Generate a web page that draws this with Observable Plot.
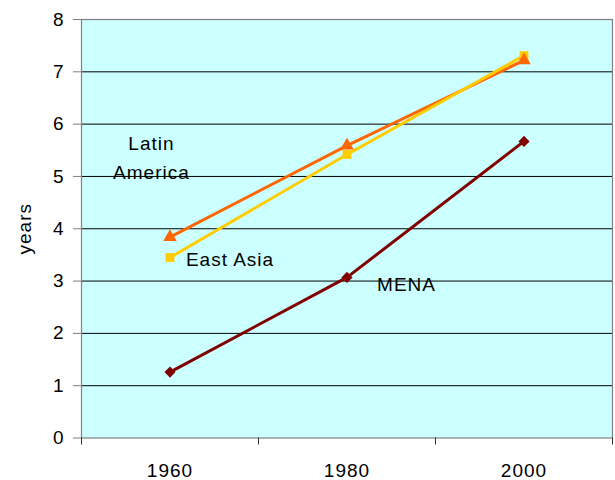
<!DOCTYPE html>
<html>
<head>
<meta charset="utf-8">
<script src="https://cdn.jsdelivr.net/npm/d3@7"></script>
<script src="https://cdn.jsdelivr.net/npm/@observablehq/plot@0.6"></script>
<style>
  html, body { margin: 0; padding: 0; background: #fff; }
  #chart svg text { letter-spacing: 1px; }
</style>
</head>
<body>
<div id="chart"></div>
<script>
const years = [1960, 1980, 2000];
const latinAmerica = [3.84, 5.59, 7.22];
const eastAsia = [3.45, 5.42, 7.31];
const mena = [1.26, 3.07, 5.67];
const yTicks = [0, 1, 2, 3, 4, 5, 6, 7, 8];
const gridTicks = [1, 2, 3, 4, 5, 6, 7];
const xTickLabels = [1960, 1980, 2000];
const xTickBounds = [1950, 1970, 1990, 2010];
const labelText = ["Latin", "America", "East Asia", "MENA"];
const labelYear = [1957.9, 1957.9, 1961.8, 1983.4];
const labelValue = [5.625, 5.06, 3.40, 2.93];
const labelAnchor = ["middle", "middle", "start", "start"];

const mk = (vals, name) => years.map((y, i) => ({year: y, value: vals[i], series: name}));
const dLA = mk(latinAmerica, "Latin America");
const dEA = mk(eastAsia, "East Asia");
const dME = mk(mena, "MENA");
const labels = labelText.map((t, i) => ({text: t, year: labelYear[i], value: labelValue[i], anchor: labelAnchor[i]}));

const font = "'Liberation Sans', Arial, sans-serif";

const chart = Plot.plot({
  width: 615,
  height: 480,
  marginLeft: 81,
  marginRight: 3,
  marginTop: 19,
  marginBottom: 42.5,
  style: {fontFamily: font, background: "white"},
  x: {domain: [1950, 2010], axis: null},
  y: {domain: [0, 8], axis: null},
  marks: [
    Plot.frame({fill: "#CCFFFF", stroke: "none"}),
    Plot.ruleY(gridTicks, {stroke: "#000", strokeWidth: 1}),
    Plot.frame({stroke: "#808080", strokeWidth: 1.2}),
    Plot.axisY({ticks: yTicks, tickSize: 8, tickPadding: 9, fontSize: 19, stroke: "#808080", strokeOpacity: 1,
      label: "years", labelAnchor: "center", labelArrow: "none", labelOffset: 64}),
    Plot.axisX({ticks: xTickBounds, tickSize: 7, tickFormat: () => "", stroke: "#333", strokeOpacity: 1, label: null}),
    Plot.axisX({ticks: xTickLabels, tickSize: 0, tickPadding: 25, fontSize: 19, tickFormat: d => String(d), label: null}),
    Plot.line(dLA, {x: "year", y: "value", stroke: "#FF6600", strokeWidth: 3}),
    Plot.line(dEA, {x: "year", y: "value", stroke: "#FFCC00", strokeWidth: 3}),
    Plot.line(dME, {x: "year", y: "value", stroke: "#800000", strokeWidth: 3}),
    Plot.dot(dEA, {x: "year", y: "value", symbol: "square", fill: "#FFCC00", r: 5}),
    Plot.dot(dLA, {x: "year", y: "value", symbol: "triangle", fill: "#FF6600", r: 5}),
    Plot.dot(dME, {x: "year", y: "value", symbol: "diamond2", fill: "#800000", r: 5}),
    Plot.text(labels.filter(d => d.anchor === "middle"), {x: "year", y: "value", text: "text", textAnchor: "middle", lineAnchor: "middle", fontSize: 19, fill: "#000"}),
    Plot.text(labels.filter(d => d.anchor === "start"), {x: "year", y: "value", text: "text", textAnchor: "start", lineAnchor: "middle", fontSize: 19, fill: "#000"})
  ]
});
document.getElementById("chart").appendChild(chart);
</script>
</body>
</html>
